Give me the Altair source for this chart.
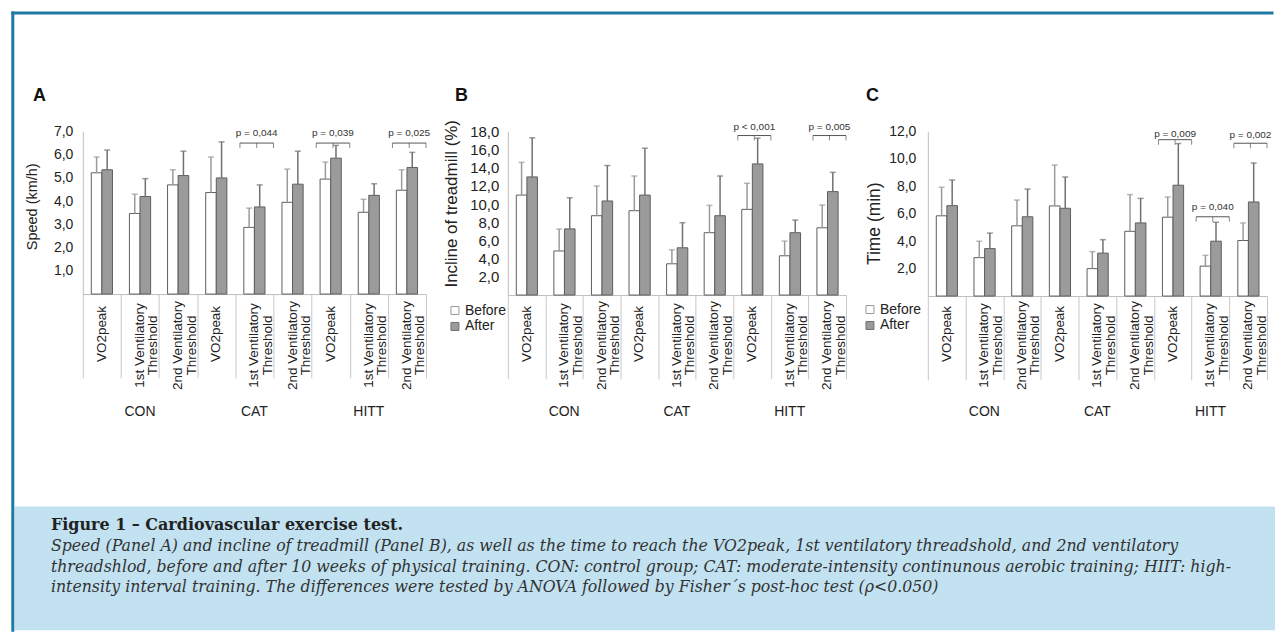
import altair as alt
import pandas as pd

# ---------------- data ----------------
groups = ["CON", "CAT", "HITT"]
measures = ["VO2peak", "1st Ventilatory\nThreshold", "2nd Ventilatory\nThreshold"]
cats = [f"{g}|{m}" for g in groups for m in range(3)]
when_levels = ["Before", "After"]

speed_before = [5.22, 3.47, 4.70, 4.37, 2.87, 3.95, 4.95, 3.52, 4.47]
speed_before_top = [5.90, 4.30, 5.35, 5.90, 3.70, 5.38, 5.68, 4.08, 5.35]
speed_after = [5.35, 4.20, 5.10, 5.00, 3.75, 4.73, 5.85, 4.25, 5.45]
speed_after_top = [6.20, 4.97, 6.15, 6.55, 4.70, 6.15, 6.40, 4.75, 6.10]

incline_before = [11.0, 4.85, 8.73, 9.28, 3.44, 6.86, 9.43, 4.32, 7.40]
incline_before_top = [14.6, 7.26, 12.0, 13.1, 4.98, 9.87, 12.3, 5.94, 9.90]
incline_after = [13.0, 7.28, 10.35, 11.0, 5.20, 8.73, 14.43, 6.86, 11.38]
incline_after_top = [17.3, 10.7, 14.25, 16.16, 7.96, 13.1, 17.26, 8.25, 13.5]

time_before = [5.85, 2.80, 5.12, 6.57, 2.00, 4.72, 5.75, 2.18, 4.05]
time_before_top = [7.93, 4.00, 7.00, 9.55, 3.24, 7.40, 7.22, 2.97, 5.33]
time_after = [6.59, 3.46, 5.78, 6.40, 3.13, 5.33, 8.08, 4.00, 6.86]
time_after_top = [8.46, 4.59, 7.80, 8.68, 4.11, 7.12, 11.12, 5.38, 9.70]

speed_sig_cats = [cats[4], cats[6], cats[8]]
speed_sig_labels = ["p = 0,044", "p = 0,039", "p = 0,025"]
speed_sig_y = [6.5, 6.5, 6.5]
speed_sig_text_y = [6.92, 6.92, 6.92]

incline_sig_cats = [cats[6], cats[8]]
incline_sig_labels = ["p < 0,001", "p = 0,005"]
incline_sig_y = [17.55, 17.55]
incline_sig_text_y = [18.45, 18.45]

time_sig_cats = [cats[6], cats[7], cats[8]]
time_sig_labels = ["p = 0,009", "p = 0,040", "p = 0,002"]
time_sig_y = [11.4, 5.78, 11.14]
time_sig_text_y = [11.78, 6.52, 11.75]

caption_title = "Figure 1 \u2013 Cardiovascular exercise test."
caption_lines = [
    "Speed (Panel A) and incline of treadmill (Panel B), as well as the time to reach the VO2peak, 1st ventilatory threadshold, and 2nd ventilatory",
    "threadshlod, before and after 10 weeks of physical training. CON: control group; CAT: moderate-intensity continunous aerobic training; HIIT: high-",
    "intensity interval training. The differences were tested by ANOVA followed by Fisher\u00b4s post-hoc test (\u03c1<0.050)",
]

FONT = "Liberation Sans"
LABEL_FMT = "replace(format(datum.value, '.1f'), '.', ',')"


def panel(letter, before, before_top, after, after_top, ydomain, yvals, ytitle,
          ylab_size, ytitle_size, title_x, title_y, lab_pad,
          sig_cats, sig_labels, sig_y, sig_ty, width, height, letter_x,
          legend_xy=None, extra=()):
    rows = []
    for i, c in enumerate(cats):
        rows.append({"cat": c, "when": "Before", "value": before[i], "top": before_top[i]})
        rows.append({"cat": c, "when": "After", "value": after[i], "top": after_top[i]})
    df = pd.DataFrame(rows)

    xscale = alt.Scale(domain=cats, paddingInner=0, paddingOuter=0)
    xaxis = alt.Axis(title=None, labels=False, ticks=True, tickBand="extent", tickSize=84,
                     tickColor="#c8c8c8", tickWidth=1, domainColor="#bdbdbd", domainWidth=1)
    yscale = alt.Scale(domain=ydomain, nice=False, zero=True)
    yaxis = alt.Axis(values=yvals, labelExpr=LABEL_FMT, ticks=False, grid=False,
                     domainColor="#bdbdbd", domainWidth=1, labelPadding=lab_pad,
                     labelFontSize=ylab_size, labelColor="#222", title=ytitle,
                     titleFontSize=ytitle_size, titleFontWeight="normal", titleColor="#222",
                     titleAngle=270, titleX=title_x, titleY=title_y, titleAlign="center",
                     titleBaseline="middle")

    def X(**kw):
        return alt.X("cat:N", sort=cats, scale=xscale, axis=xaxis, **kw)

    def Y(field):
        return alt.Y(field, scale=yscale, axis=yaxis)

    xoff = alt.XOffset("when:N", sort=when_levels,
                       scale=alt.Scale(domain=when_levels, paddingInner=0, paddingOuter=0.8))

    if legend_xy is None:
        leg = None
    else:
        leg = alt.Legend(orient="none", legendX=legend_xy[0], legendY=legend_xy[1], title=None,
                         symbolType="square", symbolSize=64, symbolStrokeColor="#777",
                         symbolStrokeWidth=1, labelFontSize=14, labelColor="#222",
                         labelFont=FONT, labelOffset=3, rowPadding=2, padding=0)

    base = alt.Chart(df)
    bars = base.mark_bar(stroke="#5e5e5e", strokeWidth=1).encode(
        x=X(), xOffset=xoff, y=Y("value:Q"),
        fill=alt.Fill("when:N", sort=when_levels,
                      scale=alt.Scale(domain=when_levels, range=["#ffffff", "#9b9b9b"]),
                      legend=leg),
    )
    err = base.mark_rule(strokeWidth=1.5).encode(
        x=X(), xOffset=xoff, y=Y("value:Q"), y2="top:Q",
        stroke=alt.Stroke("when:N", sort=when_levels,
                          scale=alt.Scale(domain=when_levels, range=["#9a9a9a", "#707070"]),
                          legend=None),
    )
    cap = base.mark_tick(orient="horizontal", size=6, thickness=1.5).encode(
        x=X(), xOffset=xoff, y=Y("top:Q"),
        color=alt.Color("when:N", sort=when_levels,
                        scale=alt.Scale(domain=when_levels, range=["#9a9a9a", "#707070"]),
                        legend=None),
    )

    sdf = pd.DataFrame({"cat": sig_cats, "label": sig_labels, "by": sig_y, "ty": sig_ty})
    sb = alt.Chart(sdf)
    br_line = sb.mark_rule(color="#555", strokeWidth=1).encode(
        x=X(bandPosition=0.12), x2=alt.X2("cat", bandPosition=1.0), y=Y("by:Q"))
    br_l = sb.mark_tick(orient="vertical", size=5, thickness=1, yOffset=2.5, color="#555").encode(
        x=X(bandPosition=0.12), y=Y("by:Q"))
    br_r = sb.mark_tick(orient="vertical", size=5, thickness=1, yOffset=2.5, color="#555").encode(
        x=X(bandPosition=1.0), y=Y("by:Q"))
    br_c = sb.mark_tick(orient="vertical", size=5, thickness=1, yOffset=2.5, color="#555").encode(
        x=X(bandPosition=0.56), y=Y("by:Q"))
    br_t = sb.mark_text(fontSize=10, color="#333", font=FONT, baseline="middle").encode(
        x=X(bandPosition=0.56), y=Y("ty:Q"), text="label:N")

    ldf = pd.DataFrame({"cat": cats, "label": [measures[i % 3] for i in range(9)],
                        "single": [i % 3 == 0 for i in range(9)]})
    lab_base = alt.Chart(ldf)
    lab1 = lab_base.transform_filter("datum.single").mark_text(
        angle=270, fontSize=13.5, font=FONT, color="#222", align="center", baseline="middle"
    ).encode(x=X(), y=alt.value(203), text="label:N")
    lab2 = lab_base.transform_filter("!datum.single").mark_text(
        angle=270, fontSize=13.5, font=FONT, color="#222", align="center", baseline="middle",
        lineBreak="\n", lineHeight=13.5
    ).encode(x=X(), y=alt.value(214.5), text="label:N")

    gdf = pd.DataFrame({"cat": [cats[1], cats[4], cats[7]], "group": groups})
    glab = alt.Chart(gdf).mark_text(fontSize=14, font=FONT, color="#222", baseline="middle").encode(
        x=X(), y=alt.value(281), text="group:N")

    let = alt.Chart(pd.DataFrame({"t": [letter]})).mark_text(
        fontSize=18, fontWeight="bold", font=FONT, color="#111", baseline="middle", align="center"
    ).encode(x=alt.value(letter_x), y=alt.value(-35.5), text="t:N")

    layers = [bars, err, cap, br_line, br_l, br_r, br_c, br_t, lab1, lab2, glab, let] + list(extra)
    return alt.layer(*layers).properties(width=width, height=height)


# decorations (frame + caption box) drawn in panel A's coordinate space
one = pd.DataFrame({"d": [0]})
FRAME = "#1d7aa4"
frame_left = alt.Chart(one).mark_rule(color=FRAME, strokeWidth=3, strokeCap="square").encode(
    x=alt.value(-70.2), y=alt.value(-118.7), y2=alt.value(500))
frame_top = alt.Chart(one).mark_rule(color=FRAME, strokeWidth=3, strokeCap="square").encode(
    y=alt.value(-118.7), x=alt.value(-70.2), x2=alt.value(1192))
cap_box = alt.Chart(one).mark_rect(fill="#c2e2f2").encode(
    x=alt.value(-68.5), x2=alt.value(1195), y=alt.value(376), y2=alt.value(500))
cap_title = alt.Chart(pd.DataFrame({"t": [caption_title]})).mark_text(
    font="DejaVu Serif", fontWeight="bold", fontSize=16, color="#222", align="left", baseline="middle"
).encode(x=alt.value(-32), y=alt.value(394.5), text="t:N")
cap_body = alt.Chart(pd.DataFrame({"t": ["\n".join(caption_lines)]})).mark_text(
    font="DejaVu Serif", fontStyle="italic", fontSize=15.8, color="#333", align="left",
    baseline="middle", lineBreak="\n", lineHeight=20.5
).encode(x=alt.value(-32), y=alt.value(416), text="t:N")

pA = panel("A", speed_before, speed_before_top, speed_after, speed_after_top,
           [0, 7], [1, 2, 3, 4, 5, 6, 7], "Speed (km/h)", 14, 14.5, -50, 75, 10,
           speed_sig_cats, speed_sig_labels, speed_sig_y, speed_sig_text_y,
           344, 163, -43.5, None,
           extra=(cap_box, frame_left, frame_top, cap_title, cap_body))
pB = panel("B", incline_before, incline_before_top, incline_after, incline_after_top,
           [0, 18], [2, 4, 6, 8, 10, 12, 14, 16, 18], "Incline of treadmill (%)", 15, 17, -56, 72, 9,
           incline_sig_cats, incline_sig_labels, incline_sig_y, incline_sig_text_y,
           339, 164, -46.5, (-60, 172.5))
pC = panel("C", time_before, time_before_top, time_after, time_after_top,
           [0, 12], [2, 4, 6, 8, 10, 12], "Time (min)", 14, 17.5, -53, 92, 12,
           time_sig_cats, time_sig_labels, time_sig_y, time_sig_text_y,
           340, 165, -55.5, (-65, 171.5))

chart = alt.hconcat(pA, pB, pC, spacing=82, bounds="flush").resolve_scale(
    fill="independent", stroke="independent", color="independent"
).resolve_legend(fill="independent").properties(
    padding={"left": 2, "top": 2, "right": 0, "bottom": 0}, background="white"
).configure(font=FONT).configure_view(stroke=None)

chart.save("out.html", embed_options={"renderer": "svg", "actions": False})
